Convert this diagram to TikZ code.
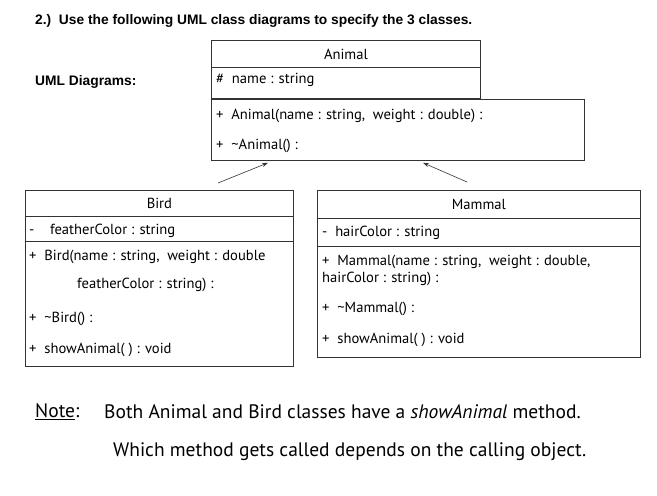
\documentclass[tikz,border=0pt]{standalone}
\usepackage{fontspec}
\setmainfont{PT Sans}
\newfontfamily\headfont{Liberation Sans}
\usetikzlibrary{arrows.meta,positioning}
\tikzset{
  >={Stealth[length=6pt,width=4pt]},
  classbox/.style={rectangle,draw=black!80,line width=0.8pt,inner sep=0pt,font=\fontsize{14.6}{16}\selectfont},
  member/.style={anchor=west,inner sep=0pt,font=\fontsize{14.6}{16}\selectfont},
  heading/.style={anchor=west,inner sep=0pt,font=\headfont\bfseries\fontsize{13.8}{16}\selectfont},
  notetext/.style={anchor=west,inner sep=0pt,font=\fontsize{19.5}{22}\selectfont},
  inherit/.style={->,line width=0.6pt,draw=black!80}
}

\begin{document}
\begin{tikzpicture}[x=1pt,y=-1pt]
  \useasboundingbox (0,0) rectangle (657,496);

  % Heading
  \node[heading] (task) at (35,21) {2.)\ \ Use the following UML class diagrams to specify the 3 classes.};
  \node[heading] (uml) at (35,82) {UML Diagrams:};

  % Animal class
  \node[classbox,anchor=north west,minimum width=269pt,minimum height=27pt] (animal) at (211,40) {Animal};
  \node[classbox,anchor=north west,minimum width=269pt,minimum height=31pt] (animalattr) at (211,67) {};
  \node[classbox,anchor=north west,minimum width=373pt,minimum height=61pt] (animalops) at (211,99) {};
  \node[member] (aname) at (216,80) {\#\ \ name : string};
  \node[member] (actor) at (216,116) {+\ \ Animal(name : string,\ \ weight : double) :};
  \node[member] (adtor) at (216,146) {+\ \ \textasciitilde Animal() :};

  % Bird class
  \node[classbox,anchor=north west,minimum width=268pt,minimum height=26pt] (bird) at (25,190) {Bird};
  \node[classbox,anchor=north west,minimum width=268pt,minimum height=25pt] (birdattr) at (25,216) {};
  \node[classbox,anchor=north west,minimum width=268pt,minimum height=125pt] (birdops) at (25,241) {};
  \node[member] (bcolor) at (29,231) {-\ \ \ \ featherColor : string};
  \node[member] (bctor) at (29,257) {+\ \ Bird(name : string,\ \ weight : double};
  \node[member] (bctor2) at (77,285) {featherColor : string) :};
  \node[member] (bdtor) at (29,319) {+\ \ \textasciitilde Bird() :};
  \node[member] (bshow) at (29,350) {+\ \ showAnimal( ) : void};

  % Mammal class
  \node[classbox,anchor=north west,minimum width=323pt,minimum height=28pt] (mammal) at (317,190) {Mammal};
  \node[classbox,anchor=north west,minimum width=323pt,minimum height=28pt] (mammalattr) at (317,218) {};
  \node[classbox,anchor=north west,minimum width=323pt,minimum height=111pt] (mammalops) at (317,246) {};
  \node[member] (mcolor) at (322,233) {-\ \ hairColor : string};
  \node[member] (mctor) at (322,262) {+\ \ Mammal(name : string,\ \ weight : double,};
  \node[member] (mctor2) at (322,279) {hairColor : string) :};
  \node[member] (mdtor) at (322,309) {+\ \ \textasciitilde Mammal() :};
  \node[member] (mshow) at (322,340) {+\ \ showAnimal( ) : void};

  % Inheritance arrows
  \coordinate (birdup) at (218,183);
  \coordinate (mammalup) at (467,182);
  \draw[inherit] (birdup) -- ([xshift=57pt,yshift=-2pt]animalops.south west);
  \draw[inherit] (mammalup) -- ([xshift=212pt,yshift=-2pt]animalops.south west);

  % Note
  \node[notetext] (note) at (35,412) {\underline{Note}:};
  \node[notetext] (note1) at (104,412) {Both Animal and Bird classes have a \textit{showAnimal} method.};
  \node[notetext] (note2) at (113,452) {Which method gets called depends on the calling object.};
\end{tikzpicture}
\end{document}
